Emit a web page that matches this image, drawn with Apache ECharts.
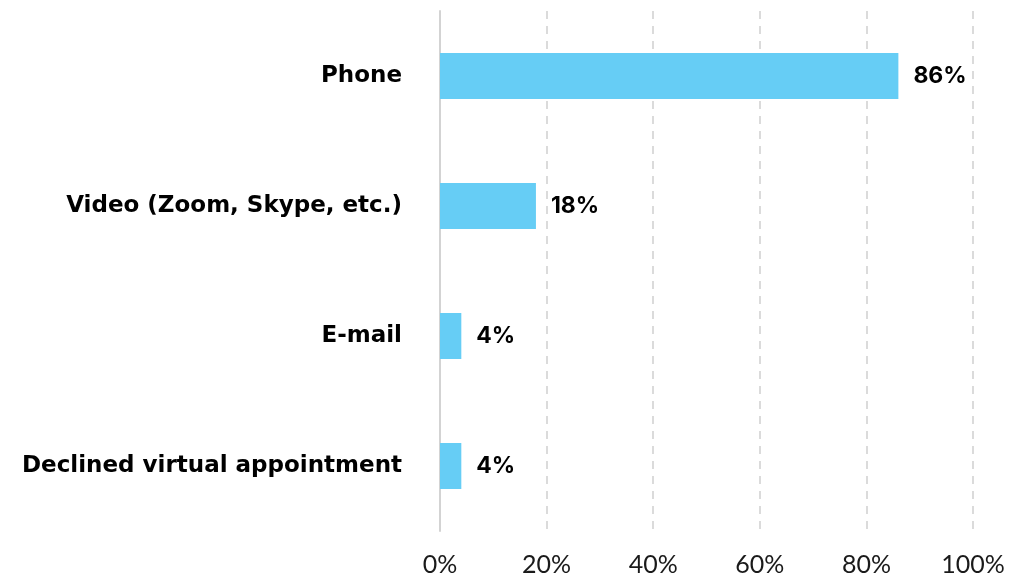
<!DOCTYPE html>
<html>
<head>
<meta charset="utf-8">
<script src="https://cdn.jsdelivr.net/npm/echarts@6/dist/echarts.min.js"></script>
<style>
  html, body { margin: 0; padding: 0; background: #fff; }
  #chart { width: 1011px; height: 579px; }
</style>
</head>
<body>
<div id="chart"></div>
<script>
var categories = ['Phone', 'Video (Zoom, Skype, etc.)', 'E-mail', 'Declined virtual appointment'];
var shares = [86, 18, 4, 4];
var tickValues = [0, 20, 40, 60, 80, 100];

var chart = echarts.init(document.getElementById('chart'));
chart.setOption({
    animation: false,
    grid: { left: 440, right: 38, top: 11, bottom: 48 },
    xAxis: {
        type: 'value',
        min: tickValues[0],
        max: tickValues[tickValues.length - 1],
        interval: 20,
        axisLine: { show: false },
        axisTick: { show: false },
        axisLabel: {
            formatter: '{value}%',
            color: '#1a1a1a',
            fontSize: 25,
            fontFamily: 'Lato',
            margin: 21
        },
        splitLine: { lineStyle: { color: '#d0d0d0', type: [8, 7], width: 1.5 } }
    },
    yAxis: {
        type: 'category',
        inverse: true,
        data: categories,
        axisLine: { show: true, lineStyle: { color: '#d3d3d3', width: 2 } },
        axisTick: { show: false },
        axisLabel: {
            color: '#000',
            fontSize: 23,
            fontWeight: 'bold',
            fontFamily: 'DejaVu Sans',
            margin: 38
        }
    },
    series: [{
        type: 'bar',
        data: shares,
        barWidth: 46,
        itemStyle: { color: '#66cdf5' },
        label: {
            show: true,
            position: 'right',
            distance: 15,
            formatter: '{c}%',
            color: '#000',
            fontSize: 23,
            fontWeight: 'bold',
            fontFamily: 'Inter'
        }
    }]
});
</script>
</body>
</html>
